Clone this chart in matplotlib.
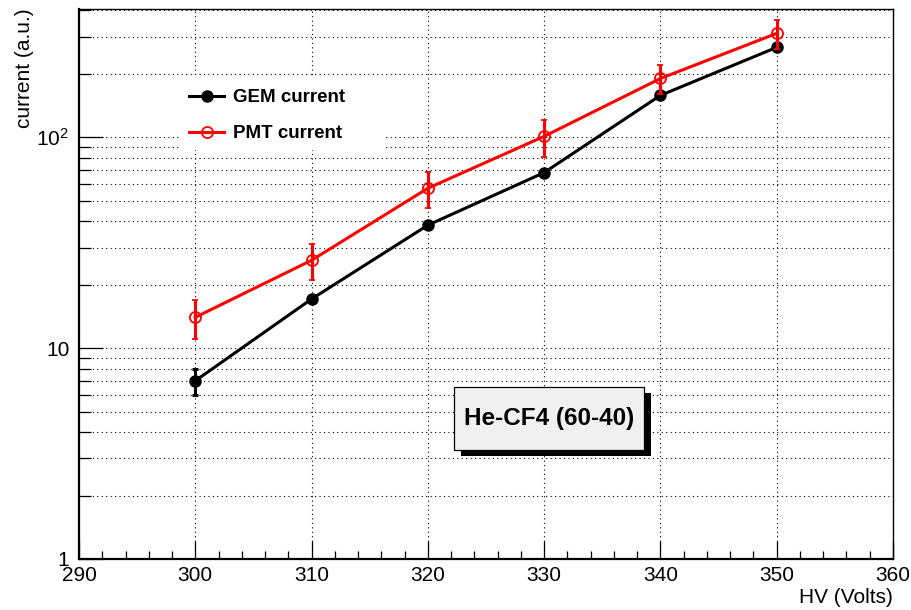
import matplotlib
matplotlib.use("Agg")
import matplotlib.pyplot as plt
from matplotlib.lines import Line2D
from matplotlib.patches import Rectangle
from matplotlib.ticker import FixedLocator, FixedFormatter, MultipleLocator, NullFormatter

plt.rcParams['font.family'] = ['Liberation Sans', 'DejaVu Sans']
plt.rcParams['mathtext.fontset'] = 'custom'
plt.rcParams['mathtext.rm'] = 'Liberation Sans'

# data
hv = [300, 310, 320, 330, 340, 350]
gem = [7.0, 17.1, 38.3, 68.0, 158, 267]
gem_err = [1.0, 0.6, 1.2, 2.0, 4.0, 7.0]
pmt = [14.0, 26.1, 57.3, 101, 190, 311]
pmt_err = [3.0, 5.0, 11.0, 20.0, 30.0, 50.0]

y_ticks = [1, 10, 100]
y_labels = ['1', '10', r'$\mathregular{10^{2}}$']
y_minor = [2, 3, 4, 5, 6, 7, 8, 9, 20, 30, 40, 50, 60, 70, 80, 90, 200, 300, 400]

fig = plt.figure(figsize=(9.12, 6.10), dpi=100)
ax = fig.add_axes([79 / 912, 1 - 559 / 610, 814 / 912, 550.5 / 610])

ax.errorbar(hv, gem, yerr=gem_err, fmt='-o', color='black', lw=2.2, ms=8,
            elinewidth=2.2, capsize=2.5, capthick=2.2, zorder=3)
ax.errorbar(hv, pmt, yerr=pmt_err, fmt='-o', color='red', mfc='none', mew=1.3,
            lw=2.2, ms=8, elinewidth=2.2, capsize=2.5, capthick=2.2, zorder=4)

ax.set_yscale('log')
ax.set_xlim(290, 360)
ax.set_ylim(1, 408)

ax.xaxis.set_major_locator(MultipleLocator(10))
ax.xaxis.set_minor_locator(MultipleLocator(2))
ax.yaxis.set_major_locator(FixedLocator(y_ticks))
ax.yaxis.set_major_formatter(FixedFormatter(y_labels))
ax.yaxis.set_minor_locator(FixedLocator(y_minor))
ax.yaxis.set_minor_formatter(NullFormatter())

ax.tick_params(axis='both', which='both', direction='in', top=False, right=False,
               labelsize=15, width=0.9)
ax.tick_params(axis='x', which='major', length=13, pad=5)
ax.tick_params(axis='x', which='minor', length=5.8)
ax.tick_params(axis='y', which='major', length=17, pad=7)
ax.tick_params(axis='y', which='minor', length=8.6)

ax.grid(True, axis='x', which='major', color='black', lw=0.8, ls=(0, (1, 3)))
ax.grid(True, axis='y', which='both', color='black', lw=0.8, ls=(0, (1, 3)))

for side in ['left', 'bottom']:
    ax.spines[side].set_linewidth(1.6)
for side in ['top', 'right']:
    ax.spines[side].set_linewidth(1.0)

ax.set_xlabel('HV (Volts)', loc='right', fontsize=15, labelpad=2)
ax.set_ylabel('current (a.u.)', loc='top', fontsize=15, labelpad=1.5)

# legend with white background hiding the grid
ax.add_patch(Rectangle((0.125, 0.743), 0.251, 0.136, transform=ax.transAxes,
                       facecolor='white', edgecolor='none', zorder=2.5))
handles = [Line2D([], [], color='black', marker='o', lw=2.2, ms=8),
           Line2D([], [], color='red', marker='o', mfc='none', mew=1.3, lw=2.2, ms=8)]
leg = ax.legend(handles, ['GEM current', 'PMT current'], loc='center',
                bbox_to_anchor=(0.2316, 0.8055), frameon=False, numpoints=1,
                handlelength=1.87, handletextpad=0.48, labelspacing=1.0,
                prop={'weight': 'bold', 'size': 13.5})
leg.set_zorder(6)

# label box with shadow
ax.add_patch(Rectangle((0.4693, 0.1871), 0.2334, 0.1144, transform=ax.transAxes,
                       facecolor='black', edgecolor='none', zorder=5))
ax.add_patch(Rectangle((0.4607, 0.198), 0.2334, 0.1144, transform=ax.transAxes,
                       facecolor='#f0f0f0', edgecolor='black', lw=0.9, zorder=5.5))
ax.text(0.5774, 0.2552, 'He-CF4 (60-40)', transform=ax.transAxes, ha='center',
        va='center', fontsize=17.5, fontweight='bold', zorder=6)

fig.savefig('out.png', dpi=100)
